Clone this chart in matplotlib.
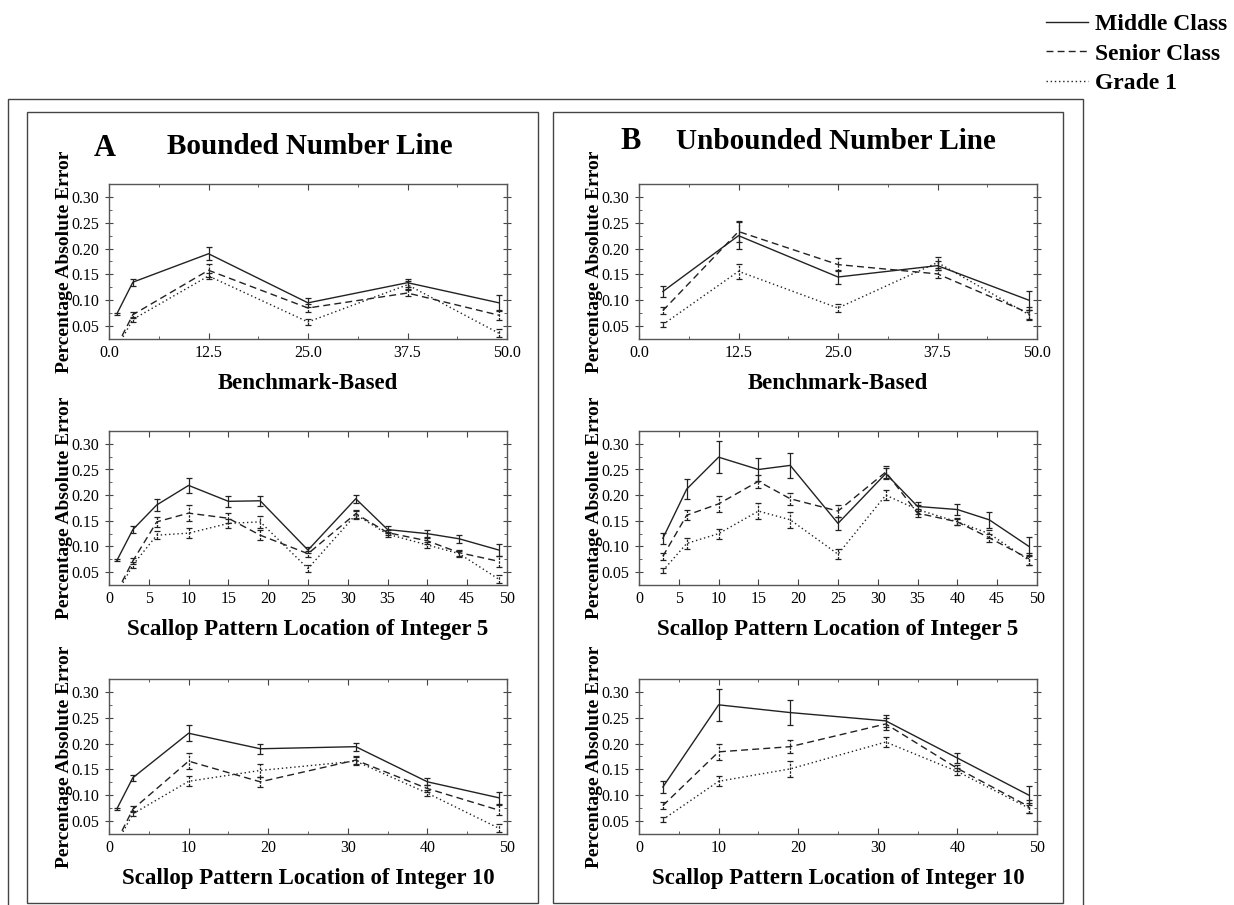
import matplotlib
matplotlib.use("Agg")
import matplotlib.pyplot as plt
from matplotlib.patches import Rectangle
from matplotlib.lines import Line2D
from matplotlib.ticker import MultipleLocator, FormatStrFormatter

plt.rcParams['font.family'] = ['Liberation Serif', 'DejaVu Serif']

# ---- data ----
groups = ['Middle Class', 'Senior Class', 'Grade 1']

# A, benchmark based
bench_x_a = [1, 3, 12.5, 25, 37.5, 49]
bench_a_middle = [0.074, 0.135, 0.190, 0.095, 0.134, 0.095]
bench_a_middle_err = [0.002, 0.007, 0.013, 0.009, 0.008, 0.015]
bench_a_senior = [0.012, 0.072, 0.158, 0.085, 0.114, 0.071]
bench_a_senior_err = [0.0, 0.006, 0.013, 0.007, 0.006, 0.010]
bench_a_grade1 = [0.008, 0.063, 0.147, 0.058, 0.130, 0.036]
bench_a_grade1_err = [0.0, 0.005, 0.006, 0.006, 0.008, 0.008]

# B, benchmark based
bench_x_b = [3, 12.5, 25, 37.5, 49]
bench_b_middle = [0.117, 0.225, 0.145, 0.167, 0.100]
bench_b_middle_err = [0.011, 0.026, 0.014, 0.008, 0.018]
bench_b_senior = [0.080, 0.233, 0.169, 0.151, 0.075]
bench_b_senior_err = [0.007, 0.020, 0.013, 0.008, 0.012]
bench_b_grade1 = [0.053, 0.156, 0.085, 0.173, 0.072]
bench_b_grade1_err = [0.005, 0.015, 0.007, 0.010, 0.010]

# A, scallop integer 5
s5_x_a = [1, 3, 6, 10, 15, 19, 25, 31, 35, 40, 44, 49]
s5a_middle = [0.073, 0.133, 0.181, 0.219, 0.188, 0.189, 0.093, 0.193, 0.133, 0.125, 0.115, 0.093]
s5a_middle_err = [0.002, 0.006, 0.012, 0.015, 0.011, 0.010, 0.006, 0.008, 0.006, 0.007, 0.008, 0.012]
s5a_senior = [0.012, 0.072, 0.148, 0.165, 0.155, 0.122, 0.086, 0.164, 0.127, 0.111, 0.088, 0.071]
s5a_senior_err = [0.0, 0.006, 0.010, 0.015, 0.010, 0.010, 0.006, 0.008, 0.005, 0.006, 0.006, 0.010]
s5a_grade1 = [0.008, 0.064, 0.122, 0.126, 0.145, 0.148, 0.057, 0.162, 0.124, 0.103, 0.086, 0.036]
s5a_grade1_err = [0.0, 0.005, 0.008, 0.010, 0.008, 0.012, 0.007, 0.008, 0.005, 0.006, 0.006, 0.008]

# B, scallop integer 5
s5_x_b = [3, 6, 10, 15, 19, 25, 31, 35, 40, 44, 49]
s5b_middle = [0.116, 0.212, 0.274, 0.250, 0.258, 0.145, 0.242, 0.178, 0.172, 0.152, 0.100]
s5b_middle_err = [0.011, 0.020, 0.031, 0.022, 0.025, 0.013, 0.011, 0.008, 0.010, 0.015, 0.018]
s5b_senior = [0.081, 0.161, 0.183, 0.227, 0.193, 0.169, 0.245, 0.165, 0.148, 0.117, 0.076]
s5b_senior_err = [0.007, 0.010, 0.015, 0.013, 0.012, 0.012, 0.012, 0.008, 0.006, 0.008, 0.012]
s5b_grade1 = [0.053, 0.106, 0.125, 0.169, 0.152, 0.085, 0.200, 0.172, 0.148, 0.125, 0.073]
s5b_grade1_err = [0.005, 0.010, 0.010, 0.016, 0.015, 0.010, 0.010, 0.008, 0.007, 0.008, 0.010]

# A, scallop integer 10
s10_x_a = [1, 3, 10, 19, 31, 40, 49]
s10a_middle = [0.074, 0.134, 0.220, 0.190, 0.194, 0.126, 0.095]
s10a_middle_err = [0.002, 0.006, 0.015, 0.010, 0.008, 0.007, 0.012]
s10a_senior = [0.012, 0.073, 0.166, 0.126, 0.168, 0.113, 0.071]
s10a_senior_err = [0.0, 0.006, 0.015, 0.010, 0.008, 0.006, 0.010]
s10a_grade1 = [0.008, 0.064, 0.127, 0.148, 0.166, 0.104, 0.036]
s10a_grade1_err = [0.0, 0.005, 0.010, 0.012, 0.008, 0.006, 0.008]

# B, scallop integer 10
s10_x_b = [3, 10, 19, 31, 40, 49]
s10b_middle = [0.116, 0.275, 0.260, 0.244, 0.172, 0.100]
s10b_middle_err = [0.011, 0.031, 0.025, 0.011, 0.010, 0.018]
s10b_senior = [0.080, 0.184, 0.194, 0.238, 0.152, 0.078]
s10b_senior_err = [0.007, 0.015, 0.012, 0.012, 0.006, 0.012]
s10b_grade1 = [0.053, 0.127, 0.151, 0.203, 0.146, 0.075]
s10b_grade1_err = [0.005, 0.010, 0.015, 0.010, 0.007, 0.010]

W, H = 1234, 905
fig = plt.figure(figsize=(W / 100, H / 100), dpi=100)


def px_axes(left, top, right, bottom):
    return fig.add_axes([left / W, 1 - bottom / H, (right - left) / W, (bottom - top) / H])


def px_rect(left, top, right, bottom):
    fig.patches.append(Rectangle((left / W, 1 - bottom / H), (right - left) / W, (bottom - top) / H,
                                 transform=fig.transFigure, fill=False, lw=1.0, ec='#444444'))


styles = ['-', (0, (5, 3)), (0, (1, 2))]
ink = '#222222'


def draw(ax, x, series, errs, xlabel, kind):
    for y, e, ls in zip(series, errs, styles):
        cont = ax.errorbar(x, y, yerr=e, color=ink, lw=1.0, ls=ls, elinewidth=0.9,
                           capsize=2.5, capthick=0.9, clip_on=True)
        if ls != '-':
            cont.lines[2][0].set_linestyle((0, (2, 1)))
    ax.set_xlim(0, 50)
    ax.set_ylim(0.025, 0.325)
    ax.yaxis.set_major_locator(MultipleLocator(0.05))
    ax.yaxis.set_minor_locator(MultipleLocator(0.025))
    ax.yaxis.set_major_formatter(FormatStrFormatter('%.2f'))
    if kind == 'bench':
        ax.xaxis.set_major_locator(MultipleLocator(12.5))
        ax.xaxis.set_minor_locator(MultipleLocator(6.25))
        ax.xaxis.set_major_formatter(FormatStrFormatter('%.1f'))
    elif kind == 's5':
        ax.xaxis.set_major_locator(MultipleLocator(5))
    else:
        ax.xaxis.set_major_locator(MultipleLocator(10))
        ax.xaxis.set_minor_locator(MultipleLocator(5))
    ax.tick_params(which='both', direction='in', top=True, right=True, labelsize=11.5,
                   color='#444444', pad=4)
    ax.tick_params(which='major', length=4)
    ax.tick_params(which='minor', length=2.5)
    ax.tick_params(axis='y', which='major', direction='inout', length=6)
    for s in ax.spines.values():
        s.set_color('#555555')
        s.set_linewidth(1.0)
    ax.set_xlabel(xlabel, fontsize=16.5, fontweight='bold', labelpad=9)
    ax.set_ylabel('Percentage Absolute Error', fontsize=14, fontweight='bold', labelpad=-1)


cols = [(109, 507), (639, 1037)]
rows = [(184, 339), (431, 585), (679, 834)]

panels = [
    (0, 0, bench_x_a, [bench_a_middle, bench_a_senior, bench_a_grade1],
     [bench_a_middle_err, bench_a_senior_err, bench_a_grade1_err], 'Benchmark-Based', 'bench'),
    (1, 0, bench_x_b, [bench_b_middle, bench_b_senior, bench_b_grade1],
     [bench_b_middle_err, bench_b_senior_err, bench_b_grade1_err], 'Benchmark-Based', 'bench'),
    (0, 1, s5_x_a, [s5a_middle, s5a_senior, s5a_grade1],
     [s5a_middle_err, s5a_senior_err, s5a_grade1_err], 'Scallop Pattern Location of Integer 5', 's5'),
    (1, 1, s5_x_b, [s5b_middle, s5b_senior, s5b_grade1],
     [s5b_middle_err, s5b_senior_err, s5b_grade1_err], 'Scallop Pattern Location of Integer 5', 's5'),
    (0, 2, s10_x_a, [s10a_middle, s10a_senior, s10a_grade1],
     [s10a_middle_err, s10a_senior_err, s10a_grade1_err], 'Scallop Pattern Location of Integer 10', 's10'),
    (1, 2, s10_x_b, [s10b_middle, s10b_senior, s10b_grade1],
     [s10b_middle_err, s10b_senior_err, s10b_grade1_err], 'Scallop Pattern Location of Integer 10', 's10'),
]

for c, r, x, ser, errs, lab, kind in panels:
    ax = px_axes(cols[c][0], rows[r][0], cols[c][1], rows[r][1])
    draw(ax, x, ser, errs, lab, kind)

# frames
px_rect(8, 99, 1083, 915)
px_rect(27, 112, 538, 903)
px_rect(553, 112, 1063, 903)

# panel headings
fig.text(105 / W, 1 - 148 / H, 'A', fontsize=22, fontweight='bold', ha='center', va='center')
fig.text(310 / W, 1 - 146 / H, 'Bounded Number Line', fontsize=21, fontweight='bold', ha='center', va='center')
fig.text(631 / W, 1 - 141 / H, 'B', fontsize=22, fontweight='bold', ha='center', va='center')
fig.text(836 / W, 1 - 141 / H, 'Unbounded Number Line', fontsize=21, fontweight='bold', ha='center', va='center')

# legend
handles = [Line2D([], [], color=ink, lw=1.0, ls=ls) for ls in styles]
fig.legend(handles, groups, loc='upper right', bbox_to_anchor=(1230 / W, 1 - 11 / H), frameon=False,
           prop={'size': 17, 'weight': 'bold'}, handlelength=1.8, handletextpad=0.3,
           labelspacing=0.35, borderaxespad=0, borderpad=0.1)

fig.savefig('out.png', dpi=100)
